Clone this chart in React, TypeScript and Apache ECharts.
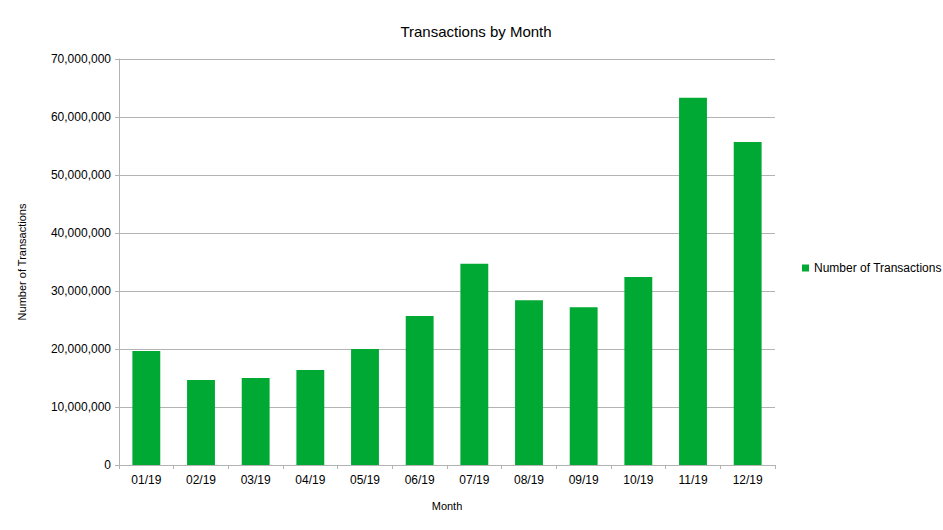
import { useEffect, useRef } from "react";
import * as echarts from "echarts";

const months = ["01/19", "02/19", "03/19", "04/19", "05/19", "06/19", "07/19", "08/19", "09/19", "10/19", "11/19", "12/19"];
const transactions = [19650000, 14650000, 15000000, 16400000, 20000000, 25700000, 34700000, 28400000, 27200000, 32400000, 63300000, 55700000];

const FONT = "Liberation Sans";

export default function App() {
  const el = useRef<HTMLDivElement>(null);

  useEffect(() => {
    if (!el.current) return;
    const chart = echarts.init(el.current, undefined, { renderer: "svg" });
    chart.setOption({
      animation: false,
      backgroundColor: "#fff",
      textStyle: { fontFamily: FONT },
      title: {
        text: "Transactions by Month",
        left: 471, top: 19, textAlign: "center",
        textStyle: { fontFamily: FONT, fontSize: 15, fontWeight: "normal", color: "#000" },
      },
      legend: {
        left: 797, top: 257, itemWidth: 7, itemHeight: 7, icon: "rect",
        textStyle: { fontFamily: FONT, fontSize: 12, color: "#000" },
      },
      grid: { left: 119, right: 168, top: 59, bottom: 65 },
      xAxis: {
        type: "category", data: months,
        name: "Month", nameLocation: "middle", nameGap: 35,
        nameTextStyle: { fontSize: 11, color: "#000" },
        axisLine: { lineStyle: { color: "#b3b3b3" } },
        axisTick: { show: true, alignWithLabel: false, length: 4, lineStyle: { color: "#b3b3b3" } },
        axisLabel: { color: "#000", fontSize: 12, margin: 9 },
      },
      yAxis: {
        type: "value", min: 0, max: 70000000, interval: 10000000,
        name: "Number of Transactions", nameLocation: "middle", nameGap: 92,
        nameTextStyle: { fontSize: 11, color: "#000" },
        axisLine: { show: true, lineStyle: { color: "#b3b3b3" } },
        axisTick: { show: true, length: 4, lineStyle: { color: "#b3b3b3" } },
        splitLine: { lineStyle: { color: "#b3b3b3" } },
        axisLabel: {
          color: "#000", fontSize: 12, margin: 8,
          formatter: (v: number) => v.toLocaleString("en-US"),
        },
      },
      series: [{
        name: "Number of Transactions", type: "bar", data: transactions,
        barWidth: "51%", itemStyle: { color: "#00a933" },
      }],
    });
    return () => chart.dispose();
  }, []);

  return <div ref={el} style={{ position: "absolute", left: 0, top: 0, width: 943, height: 530 }} />;
}
